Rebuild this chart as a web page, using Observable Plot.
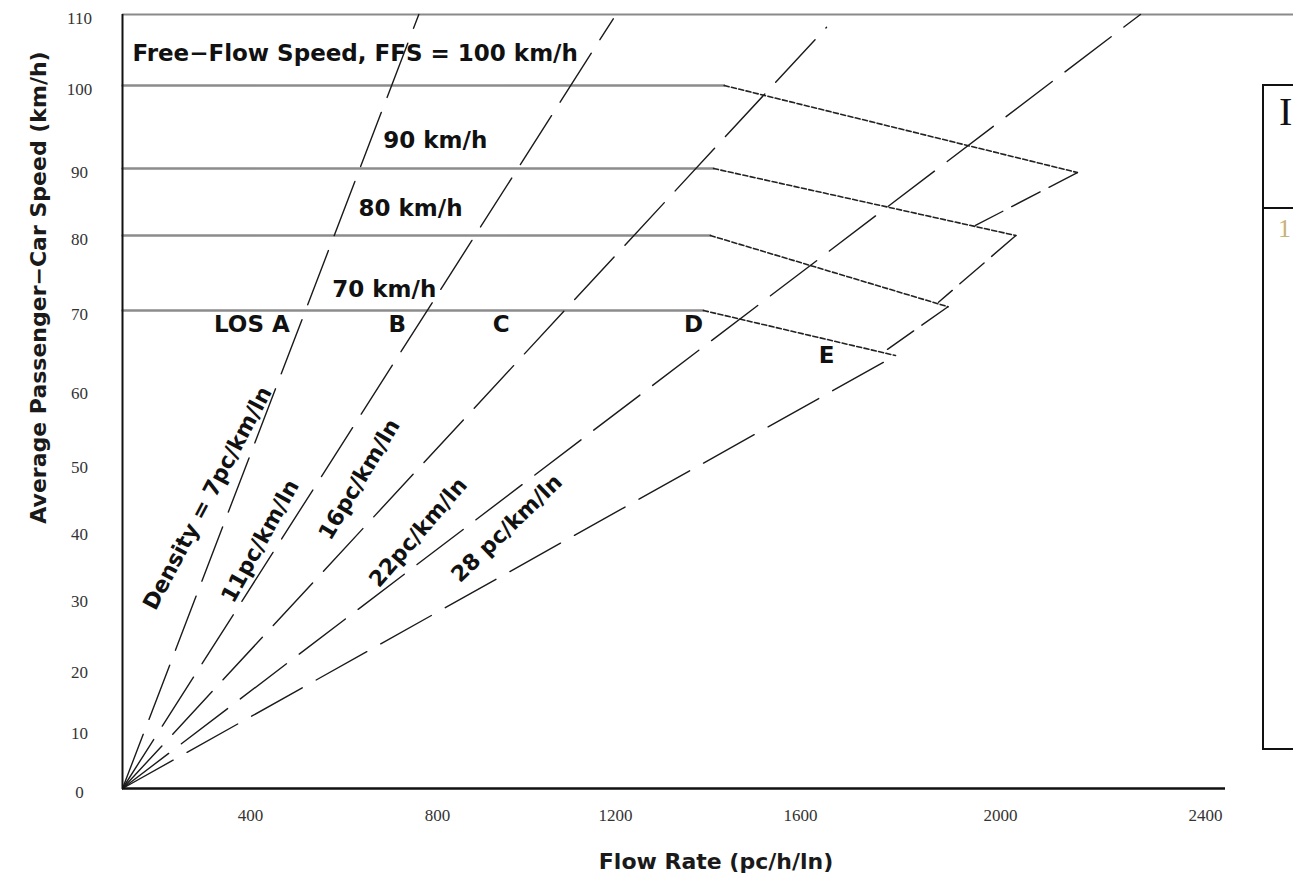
<!DOCTYPE html>
<html>
<head>
<meta charset="utf-8">
<script src="https://cdn.jsdelivr.net/npm/d3@7"></script>
<script src="https://cdn.jsdelivr.net/npm/@observablehq/plot@0.6"></script>
<style>
  html, body { margin: 0; padding: 0; background: #fff; overflow: hidden; }
  #wrap { position: relative; width: 1293px; height: 874px; overflow: hidden; }
  #box { position: absolute; left: 1262px; top: 84px; width: 80px; height: 662px;
         border: 2px solid #111; border-right: none; }
  #box .divider { position: absolute; left: 0; right: 0; top: 121px; border-top: 2px solid #111; }
  #box .t1 { position: absolute; left: 15px; top: 2px; font: 40px "Liberation Serif", serif; color: #111; }
  #box .t2 { position: absolute; left: 14px; top: 128px; font: 26px "Liberation Serif", serif; color: #c9b27a; }
</style>
</head>
<body>
<div id="wrap"></div>
<script>
// ---- axis ticks ----
const xTicks = [400, 800, 1200, 1600, 2000, 2400];
const yTicks = [0, 10, 20, 30, 40, 50, 60, 70, 80, 90, 100, 110];

// ---- speed-flow curves (one per free-flow speed) ----
const ffsSpeeds    = [100, 90, 80, 70];          // km/h
const breakFlow    = [1435, 1412, 1405, 1390];   // pc/h/ln where the curve starts to fall
const capFlow      = [2150, 2030, 1895, 1790];   // capacity flow
const capSpeed     = [89.4, 80, 70.5, 64.3];     // speed at capacity

// ---- density rays from the origin ----
const densities    = [7, 11, 16, 22, 28];
const rayEndFlow   = [760, 1195, 1652, 2273, 1790];
const rayEndSpeed  = [110, 109.4, 108.2, 110, 64.3];

// ---- LOS E / F boundary pieces (from each capacity point down to next curve) ----
const eStartFlow   = [2150, 2030, 1895];
const eStartSpeed  = [89.4, 80, 70.5];
const eEndFlow     = [1950, 1876, 1770];
const eEndSpeed    = [81.5, 71.1, 64.9];

// ---- labels ----
const ffsLabels      = ["Free\u2212Flow Speed, FFS = 100 km/h", "90 km/h", "80 km/h", "70 km/h"];
const ffsLabelFlow   = [31, 684, 631, 575];
const ffsLabelSpeed  = [104.5, 93.3, 84.0, 72.8];

const losLabels      = ["LOS A", "B", "C", "D", "E"];
const losLabelFlow   = [403, 714, 943, 1369, 1652];
const losLabelSpeed  = [68.2, 68.2, 68.2, 68.2, 64.3];

const densLabels     = ["Density = 7pc/km/ln", "11pc/km/ln", "16pc/km/ln", "22pc/km/ln", "28 pc/km/ln"];
const densLabelFlow  = [266, 421, 633, 759, 956];
const densLabelSpeed = [44.8, 38.4, 47.6, 39.7, 40.3];
const densLabelAngle = [-62, -61, -59, -49, -44];

const xTitle = "Flow Rate (pc/h/ln)";
const yTitle = "Average Passenger\u2212Car Speed (km/h)";
const topSpeed = 110;
const xAxisEnd = 2440;
const topLineEnd = 2600;

// ---- scales (the reference axes are unevenly spaced, so piecewise) ----
const xDomain = [0, 400, 800, 1200, 1600, 2000, 2400, 2440];
const xRange  = [122, 250, 437, 615, 800, 1000, 1205, 1225];
const yDomain = [0, 10, 20, 30, 40, 50, 60, 70, 80, 90, 100, 110];
const yRange  = [788, 729, 668, 597, 530, 463, 389, 310, 235, 168, 85, 14];

// ---- build tables ----
const flatPart = ffsSpeeds.map((s, i) => [{flow: 0, speed: s, id: i}, {flow: breakFlow[i], speed: s, id: i}]).flat();
const fallPart = ffsSpeeds.map((s, i) => [{flow: breakFlow[i], speed: s, id: i}, {flow: capFlow[i], speed: capSpeed[i], id: i}]).flat();
const rays = densities.map((d, i) => [{flow: 0, speed: 0, id: d}, {flow: rayEndFlow[i], speed: rayEndSpeed[i], id: d}]).flat();
const eParts = eStartFlow.map((f, i) => [{flow: f, speed: eStartSpeed[i], id: i}, {flow: eEndFlow[i], speed: eEndSpeed[i], id: i}]).flat();
const ffsText = ffsLabels.map((t, i) => ({t, flow: ffsLabelFlow[i], speed: ffsLabelSpeed[i]}));
const losText = losLabels.map((t, i) => ({t, flow: losLabelFlow[i], speed: losLabelSpeed[i]}));
const densText = densLabels.map((t, i) => ({t, flow: densLabelFlow[i], speed: densLabelSpeed[i], a: densLabelAngle[i]}));

const sans = "DejaVu Sans, Liberation Sans, Arial, sans-serif";
const serif = "Liberation Serif, DejaVu Serif, serif";

const chart = Plot.plot({
  width: 1293,
  height: 874,
  marginLeft: 122,
  marginRight: 68,
  marginTop: 14,
  marginBottom: 86,
  style: {background: "#fff", fontFamily: sans},
  x: {type: "linear", domain: xDomain, range: xRange},
  y: {type: "linear", domain: yDomain, range: yRange},
  marks: [
    Plot.axisX({ticks: xTicks, tickSize: 0, tickPadding: 20, tickFormat: d => String(d),
                fontFamily: serif, fontSize: 17, fill: "#333", label: null}),
    Plot.axisY({ticks: yTicks, tickSize: 0, tickPadding: 43, textAnchor: "middle", dy: 4,
                tickFormat: d => String(d), fontFamily: serif, fontSize: 17, fill: "#333", label: null}),
    // top boundary line
    Plot.ruleY([topSpeed], {x1: 0, x2: topLineEnd, stroke: "#8a8a8a", strokeWidth: 2}),
    // flat parts of speed-flow curves
    Plot.line(flatPart, {x: "flow", y: "speed", z: "id", stroke: "#8c8c8c", strokeWidth: 2.4}),
    // falling parts
    Plot.line(fallPart, {x: "flow", y: "speed", z: "id", stroke: "#222", strokeWidth: 1.6, strokeDasharray: "5,2.5"}),
    // density rays
    Plot.line(rays, {x: "flow", y: "speed", z: "id", stroke: "#1a1a1a", strokeWidth: 1.4, strokeDasharray: "58,16"}),
    // E boundary pieces
    Plot.line(eParts, {x: "flow", y: "speed", z: "id", stroke: "#1a1a1a", strokeWidth: 1.4, strokeDasharray: "32,10"}),
    // axes lines
    Plot.ruleX([0], {y1: 0, y2: topSpeed, stroke: "#111", strokeWidth: 2}),
    Plot.ruleY([0], {x1: 0, x2: xAxisEnd, stroke: "#111", strokeWidth: 2.5}),
    // labels
    Plot.text(ffsText, {x: "flow", y: "speed", text: "t", textAnchor: "start", fontSize: 23, fontWeight: "bold", fill: "#111", fontFamily: sans}),
    Plot.text(losText, {x: "flow", y: "speed", text: "t", textAnchor: "middle", fontSize: 23, fontWeight: "bold", fill: "#111", fontFamily: sans}),
    Plot.text(densText, {x: "flow", y: "speed", text: "t", rotate: "a", textAnchor: "middle", fontSize: 22, fontWeight: "bold", fill: "#111", fontFamily: sans}),
    // axis titles
    Plot.text([yTitle], {frameAnchor: "left", textAnchor: "middle", lineAnchor: "middle", rotate: -90, dx: -84, dy: -114, fontSize: 22, fontWeight: "bold", fill: "#1a1a1a", fontFamily: sans}),
    Plot.text([xTitle], {frameAnchor: "bottom", textAnchor: "middle", lineAnchor: "middle", dx: 42, dy: 73, fontSize: 22, fontWeight: "bold", fill: "#1a1a1a", fontFamily: sans})
  ]
});

const wrap = document.getElementById("wrap");
wrap.appendChild(chart);
const box = document.createElement("div");
box.id = "box";
box.innerHTML = '<div class="divider"></div><span class="t1">I</span><span class="t2">1</span>';
wrap.appendChild(box);
</script>
</body>
</html>
